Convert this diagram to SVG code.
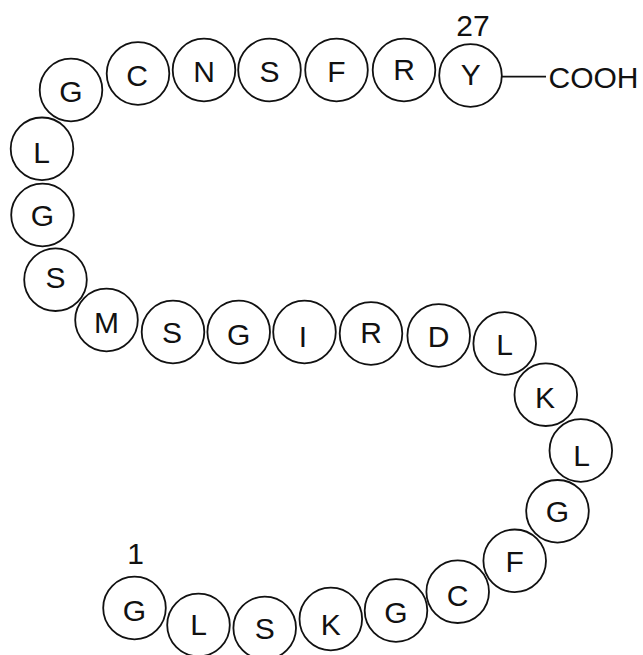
<svg xmlns="http://www.w3.org/2000/svg" width="643" height="655" viewBox="0 0 643 655">
<style>
.n circle{fill:#fff;stroke:#111;stroke-width:1.8}
text{font-family:"Liberation Sans",Arial,sans-serif;font-size:30px;fill:#111}
.n text{text-anchor:middle}
.c{stroke:#111;stroke-width:1.8;fill:none}
</style>
<rect width="643" height="655" fill="#fff"/>
<g id="connectors">
<line class="c" x1="502" y1="76.7" x2="546" y2="76.7"/>
</g>
<g id="r1" class="n"><circle cx="134.5" cy="608" r="31.3"/><text x="134.5" y="621">G</text></g>
<g id="r2" class="n"><circle cx="198.5" cy="625" r="31.3"/><text x="198.5" y="635">L</text></g>
<g id="r3" class="n"><circle cx="264.7" cy="628" r="31.3"/><text x="264.7" y="639.3">S</text></g>
<g id="r4" class="n"><circle cx="330.8" cy="619" r="31.3"/><text x="330.8" y="635">K</text></g>
<g id="r5" class="n"><circle cx="396" cy="610.5" r="31.3"/><text x="396" y="622.7">G</text></g>
<g id="r6" class="n"><circle cx="457.7" cy="591.7" r="31.3"/><text x="457.7" y="606.3">C</text></g>
<g id="r7" class="n"><circle cx="514.7" cy="560.8" r="31.3"/><text x="514.7" y="571.7">F</text></g>
<g id="r8" class="n"><circle cx="557.5" cy="511.3" r="31.3"/><text x="557.5" y="521.5">G</text></g>
<g id="r9" class="n"><circle cx="580.8" cy="450.5" r="31.3"/><text x="581.5" y="466">L</text></g>
<g id="r10" class="n"><circle cx="545.8" cy="394.7" r="31.3"/><text x="545" y="408">K</text></g>
<g id="r11" class="n"><circle cx="504.7" cy="343.5" r="31.3"/><text x="504.7" y="355">L</text></g>
<g id="r12" class="n"><circle cx="438.7" cy="335.5" r="31.3"/><text x="438.7" y="346.7">D</text></g>
<g id="r13" class="n"><circle cx="371" cy="333.5" r="31.3"/><text x="371" y="343.3">R</text></g>
<g id="r14" class="n"><circle cx="304.5" cy="332" r="31.3"/><text x="303" y="346.7">I</text></g>
<g id="r15" class="n"><circle cx="238.7" cy="332" r="31.3"/><text x="238.7" y="345">G</text></g>
<g id="r16" class="n"><circle cx="173" cy="332" r="31.3"/><text x="172" y="343">S</text></g>
<g id="r17" class="n"><circle cx="106.5" cy="320" r="31.3"/><text x="106.5" y="333.3">M</text></g>
<g id="r18" class="n"><circle cx="55.5" cy="279.7" r="31.3"/><text x="55.5" y="288">S</text></g>
<g id="r19" class="n"><circle cx="42.5" cy="215" r="31.3"/><text x="42.5" y="226">G</text></g>
<g id="r20" class="n"><circle cx="42" cy="148.8" r="31.3"/><text x="41.5" y="162.7">L</text></g>
<g id="r21" class="n"><circle cx="71" cy="90" r="31.3"/><text x="71" y="101.5">G</text></g>
<g id="r22" class="n"><circle cx="138" cy="73.5" r="31.3"/><text x="137" y="85.5">C</text></g>
<g id="r23" class="n"><circle cx="204" cy="70" r="31.3"/><text x="204" y="82.3">N</text></g>
<g id="r24" class="n"><circle cx="269.5" cy="70" r="31.3"/><text x="269.5" y="81.5">S</text></g>
<g id="r25" class="n"><circle cx="336.5" cy="70" r="31.3"/><text x="336.5" y="81.7">F</text></g>
<g id="r26" class="n"><circle cx="404" cy="70" r="31.3"/><text x="404" y="80">R</text></g>
<g id="r27" class="n"><circle cx="470.5" cy="75.5" r="31.3"/><text x="470.8" y="85">Y</text></g>
<g id="labels">
<text x="473" y="36" text-anchor="middle">27</text>
<text x="135.5" y="564" text-anchor="middle">1</text>
</g>
<g id="cooh"><text x="548.5" y="88.3">COOH</text></g>
</svg>
